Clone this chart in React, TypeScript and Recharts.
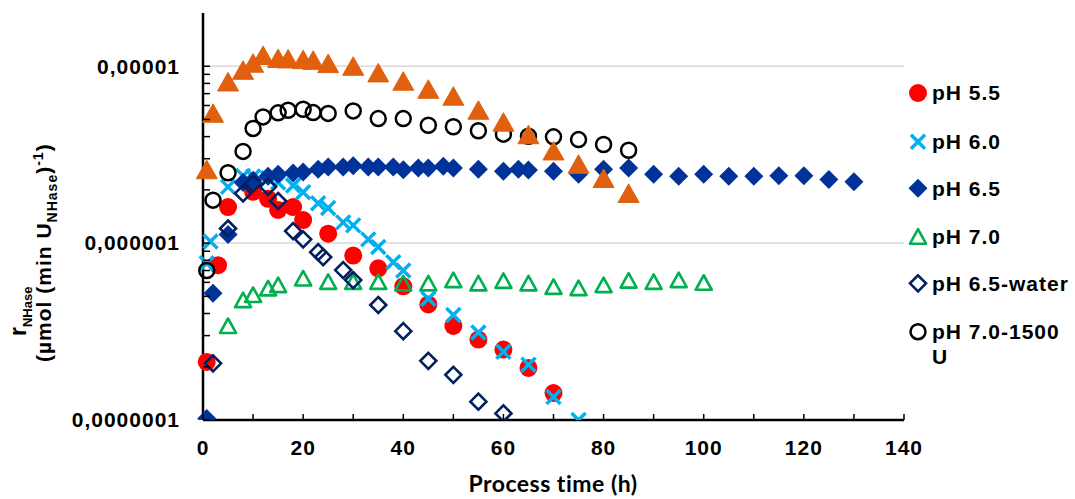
import React from 'react';
import { ScatterChart, Scatter, XAxis, YAxis, CartesianGrid } from 'recharts';

const FONT = '"Liberation Sans", Arial, sans-serif';

// process time (h) and r_NHase (µmol (min U_NHase)^-1) per series
const timePH55 = [0.75, 3, 5, 10, 13, 15, 18, 20, 25, 30, 35, 40, 45, 50, 55, 60, 65, 70];
const ratePH55 = [2.13e-7, 7.5e-7, 1.6e-6, 1.95e-6, 1.78e-6, 1.54e-6, 1.6e-6, 1.35e-6, 1.13e-6, 8.5e-7, 7.2e-7, 5.7e-7, 4.5e-7, 3.4e-7, 2.85e-7, 2.5e-7, 1.97e-7, 1.42e-7];

const timePH60 = [0.75, 1.5, 5, 8, 10, 13, 15, 18, 20, 23, 25, 28, 30, 33, 35, 38, 40, 45, 50, 55, 60, 65, 70, 75];
const ratePH60 = [7.7e-7, 1.02e-6, 2.08e-6, 2.4e-6, 2.38e-6, 2.33e-6, 2.2e-6, 2.12e-6, 1.94e-6, 1.68e-6, 1.58e-6, 1.31e-6, 1.26e-6, 1.05e-6, 9.5e-7, 7.8e-7, 7.0e-7, 4.85e-7, 3.92e-7, 3.12e-7, 2.43e-7, 2.05e-7, 1.35e-7, 1.0e-7];

const timePH65 = [0.75, 2, 5, 8, 10, 13, 15, 18, 20, 23, 25, 28, 30, 33, 35, 38, 40, 43, 45, 48, 50, 55, 60, 63, 65, 70, 75, 80, 85, 90, 95, 100, 105, 110, 115, 120, 125, 130];
const ratePH65 = [1.02e-7, 5.2e-7, 1.12e-6, 2.2e-6, 2.27e-6, 2.39e-6, 2.45e-6, 2.49e-6, 2.52e-6, 2.62e-6, 2.69e-6, 2.69e-6, 2.74e-6, 2.69e-6, 2.69e-6, 2.69e-6, 2.6e-6, 2.66e-6, 2.66e-6, 2.72e-6, 2.66e-6, 2.62e-6, 2.55e-6, 2.62e-6, 2.59e-6, 2.55e-6, 2.45e-6, 2.62e-6, 2.66e-6, 2.45e-6, 2.39e-6, 2.45e-6, 2.39e-6, 2.39e-6, 2.4e-6, 2.4e-6, 2.29e-6, 2.22e-6];

const timePH70 = [5, 8, 10, 13, 15, 20, 25, 30, 35, 40, 45, 50, 55, 60, 65, 70, 75, 80, 85, 90, 95, 100];
const ratePH70 = [3.4e-7, 4.76e-7, 5.09e-7, 5.55e-7, 5.79e-7, 6.31e-7, 6.04e-7, 6.04e-7, 6.04e-7, 5.92e-7, 5.92e-7, 6.18e-7, 5.92e-7, 6.12e-7, 5.92e-7, 5.66e-7, 5.57e-7, 5.79e-7, 6.14e-7, 6.04e-7, 6.18e-7, 5.97e-7];

const timeWater = [2, 5, 8, 10, 13, 15, 18, 20, 23, 24, 28, 30, 35, 40, 45, 50, 55, 60];
const rateWater = [2.09e-7, 1.21e-6, 1.91e-6, 2.17e-6, 2.08e-6, 1.73e-6, 1.17e-6, 1.05e-6, 8.89e-7, 8.34e-7, 7.04e-7, 6.18e-7, 4.47e-7, 3.18e-7, 2.16e-7, 1.8e-7, 1.27e-7, 1.09e-7];

const time1500 = [0.75, 2, 5, 8, 10, 12, 15, 17, 20, 22, 25, 30, 35, 40, 45, 50, 55, 60, 65, 70, 75, 80, 85];
const rate1500 = [7.0e-7, 1.75e-6, 2.5e-6, 3.3e-6, 4.45e-6, 5.17e-6, 5.45e-6, 5.64e-6, 5.71e-6, 5.47e-6, 5.41e-6, 5.59e-6, 5.06e-6, 5.06e-6, 4.64e-6, 4.55e-6, 4.32e-6, 4.13e-6, 4.02e-6, 3.99e-6, 3.85e-6, 3.61e-6, 3.35e-6];

// orange series, not listed in the legend
const timeOrange = [0.75, 2, 5, 8, 10, 12, 15, 17, 20, 22, 25, 30, 35, 40, 45, 50, 55, 60, 65, 70, 75, 80, 85];
const rateOrange = [2.6e-6, 5.42e-6, 8.15e-6, 9.49e-6, 1.04e-5, 1.15e-5, 1.105e-5, 1.1e-5, 1.09e-5, 1.08e-5, 1.035e-5, 1.0e-5, 9.17e-6, 8.23e-6, 7.41e-6, 6.77e-6, 5.64e-6, 4.83e-6, 4.1e-6, 3.32e-6, 2.79e-6, 2.32e-6, 1.91e-6];

const xTicks = [0, 10, 20, 30, 40, 50, 60, 70, 80, 90, 100, 110, 120, 130, 140];
const yMajor = [1e-7, 1e-6, 1e-5];
const yMajorLabels = ['0,0000001', '0,000001', '0,00001'];
const yMinor = [2e-7, 3e-7, 4e-7, 5e-7, 6e-7, 7e-7, 8e-7, 9e-7, 2e-6, 3e-6, 4e-6, 5e-6, 6e-6, 7e-6, 8e-6, 9e-6];

const zip = (t: number[], v: number[]) => t.map((x, i) => ({ t: x, v: v[i] }));

const RedDot = ({ cx, cy }: any) => <circle cx={cx} cy={cy} r={9} fill="#ff0000" />;
const BlueCross = ({ cx, cy }: any) => (
  <path
    d={`M${cx - 7},${cy - 7}L${cx + 7},${cy + 7}M${cx - 7},${cy + 7}L${cx + 7},${cy - 7}`}
    stroke="#00b0f0"
    strokeWidth={3.5}
    fill="none"
  />
);
const FilledDiamond = ({ cx, cy }: any) => (
  <path d={`M${cx},${cy - 9.5}L${cx + 9.5},${cy}L${cx},${cy + 9.5}L${cx - 9.5},${cy}Z`} fill="#003399" />
);
const OpenTriangle = ({ cx, cy }: any) => (
  <path
    d={`M${cx},${cy - 7.5}L${cx + 8},${cy + 7}L${cx - 8},${cy + 7}Z`}
    stroke="#00b050"
    strokeWidth={2.6}
    strokeLinejoin="round"
    fill="none"
  />
);
const OpenDiamond = ({ cx, cy }: any) => (
  <path
    d={`M${cx},${cy - 8}L${cx + 8},${cy}L${cx},${cy + 8}L${cx - 8},${cy}Z`}
    stroke="#002060"
    strokeWidth={2.6}
    fill="none"
  />
);
const OpenCircle = ({ cx, cy }: any) => (
  <circle cx={cx} cy={cy} r={7.5} stroke="#000" strokeWidth={2.5} fill="none" />
);
const OrangeTriangle = ({ cx, cy }: any) => (
  <path
    d={`M${cx},${cy - 9.5}L${cx + 10.5},${cy + 9}L${cx - 10.5},${cy + 9}Z`}
    fill="#e0600e"
    stroke="#e0600e"
    strokeWidth={1}
    strokeLinejoin="round"
  />
);

const series = [
  { name: 'pH 5.5', data: zip(timePH55, ratePH55), Shape: RedDot },
  { name: 'pH 6.0', data: zip(timePH60, ratePH60), Shape: BlueCross },
  { name: 'pH 6.5', data: zip(timePH65, ratePH65), Shape: FilledDiamond },
  { name: 'pH 7.0', data: zip(timePH70, ratePH70), Shape: OpenTriangle },
  { name: 'pH 6.5-water', data: zip(timeWater, rateWater), Shape: OpenDiamond },
  { name: 'pH 7.0-1500 U', data: zip(time1500, rate1500), Shape: OpenCircle },
];

const labelStyle = { fontFamily: FONT, fontWeight: 700, fontSize: 21, letterSpacing: 1, fill: '#000' };

const XTick = ({ x, y, payload }: any) => {
  const v = payload.value;
  return (
    <g>
      <line x1={x} x2={x} y1={y} y2={y - 6} stroke="#000" strokeWidth={1.5} />
      {v % 20 === 0 && (
        <text x={x} y={y + 28} dy="0.35em" textAnchor="middle" style={labelStyle}>
          {v}
        </text>
      )}
    </g>
  );
};

const YTick = ({ x, y, payload }: any) => {
  const idx = yMajor.findIndex((m) => Math.abs(m - payload.value) / m < 1e-6);
  return (
    <g>
      <line x1={x} x2={x + 7} y1={y} y2={y} stroke="#000" strokeWidth={1.5} />
      {idx >= 0 && (
        <text x={x - 23} y={y} dy="0.35em" textAnchor="end" style={labelStyle}>
          {yMajorLabels[idx]}
        </text>
      )}
    </g>
  );
};

const App = () => {
  return (
    <div style={{ position: 'absolute', left: 0, top: 0, width: 1075, height: 499, background: '#fff' }}>
      <ScatterChart width={1075} height={499} margin={{ top: 13, right: 171, bottom: 0, left: 0 }}>
        <CartesianGrid vertical={false} horizontalValues={[1e-6, 1e-5]} stroke="#d9d9d9" strokeWidth={1.5} />
        <XAxis
          type="number"
          dataKey="t"
          domain={[0, 140]}
          ticks={xTicks}
          interval={0}
          height={79}
          tickSize={0}
          tickMargin={0}
          tickLine={false}
          tick={<XTick />}
          axisLine={{ stroke: '#000', strokeWidth: 2.5 }}
        />
        <YAxis
          type="number"
          dataKey="v"
          scale="log"
          domain={[1e-7, 2e-5]}
          allowDataOverflow
          ticks={[...yMajor, ...yMinor]}
          interval={0}
          width={203}
          tickSize={0}
          tickMargin={0}
          tickLine={false}
          tick={<YTick />}
          axisLine={{ stroke: '#000', strokeWidth: 2.5 }}
        />
        {series.map((s) => (
          <Scatter
            key={s.name}
            name={s.name}
            data={s.data}
            isAnimationActive={false}
            shape={(p: any) => <s.Shape cx={p.cx} cy={p.cy} />}
          />
        ))}
        <Scatter
          name="orange"
          data={zip(timeOrange, rateOrange)}
          isAnimationActive={false}
          shape={(p: any) => <OrangeTriangle cx={p.cx} cy={p.cy} />}
        />
      </ScatterChart>
      <svg
        width={1075}
        height={499}
        style={{ position: 'absolute', left: 0, top: 0, pointerEvents: 'none' }}
      >
        {/* y axis title */}
        <text transform="translate(26,336) rotate(-90)" textAnchor="start" style={{ ...labelStyle, letterSpacing: 0 }}>
          <tspan fontSize={23}>r</tspan>
          <tspan fontSize={13} dy={6}>NHase</tspan>
        </text>
        <text transform="translate(51,362) rotate(-90)" textAnchor="start" style={labelStyle}>
          <tspan>(µmol (min U</tspan>
          <tspan fontSize={14} dy={6}>NHase</tspan>
          <tspan dy={-6}>)</tspan>
          <tspan fontSize={14} dy={-8}>-1</tspan>
          <tspan dy={8}>)</tspan>
        </text>
        {/* x axis title */}
        <text
          x={553}
          y={492}
          textAnchor="middle"
          style={{ fontFamily: 'Lato, "Open Sans", sans-serif', fontWeight: 700, fontSize: 23, letterSpacing: 0.5 }}
        >
          Process time (h)
        </text>
        {/* legend */}
        {series.map((s, i) => {
          const cy = [93, 141.7, 188.3, 236.7, 283.3, 331.7][i];
          return (
            <g key={s.name}>
              <s.Shape cx={918} cy={cy} />
              {s.name === 'pH 7.0-1500 U' ? (
                <text x={932} y={cy} dy="0.35em" style={labelStyle}>
                  <tspan x={932}>pH 7.0-1500</tspan>
                  <tspan x={932} dy={25}>U</tspan>
                </text>
              ) : (
                <text x={932} y={cy} dy="0.35em" style={labelStyle}>
                  {s.name}
                </text>
              )}
            </g>
          );
        })}
      </svg>
    </div>
  );
};

export default App;
